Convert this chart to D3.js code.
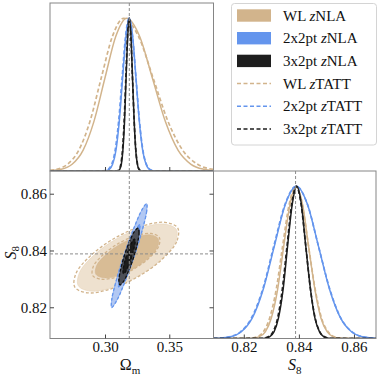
<!DOCTYPE html>
<html lang="en">
<head>
<meta charset="utf-8">
<title>Omega_m - S8 corner plot</title>
<script src="https://d3js.org/d3.v7.min.js"></script>
<style>
  body { margin: 0; background: #fff; }
  svg { display: block; }
  text { font-family: "Liberation Serif", "DejaVu Serif", serif; fill: #111; }
</style>
</head>
<body>
<svg id="chart" width="381" height="381"></svg>
<script>
// ---- data ----
var omTicks = [0.30, 0.35];
var s8Ticks = [0.82, 0.84, 0.86];
var truthOm = 0.3189, truthS8 = 0.8388;

var legendNames = ["WL", "2x2pt", "3x2pt"];
var legendModels = ["NLA", "TATT"];

// 1D marginals, Omega_m  [value, density / peak]
var omWLnla = [[0.2572,0.002],[0.2659,0.011],[0.2744,0.044],[0.2829,0.135],[0.2914,0.325],[0.2999,0.607],[0.3084,0.882],[0.3169,1],[0.3269,0.882],[0.3369,0.607],[0.3469,0.325],[0.3569,0.135],[0.3669,0.044],[0.3769,0.011],[0.3844,0.003]];
var omWLtatt = [[0.2572,0.005],[0.2620,0.011],[0.2708,0.044],[0.2795,0.135],[0.2883,0.325],[0.2970,0.607],[0.3058,0.882],[0.3145,1],[0.3260,0.882],[0.3375,0.607],[0.3490,0.325],[0.3605,0.135],[0.3720,0.044],[0.3844,0.010]];
var om2x2nla = [[0.2572,0],[0.2981,0.0003],[0.3007,0.002],[0.3033,0.011],[0.3059,0.044],[0.3085,0.135],[0.3111,0.325],[0.3137,0.607],[0.3163,0.882],[0.3189,1],[0.3215,0.882],[0.3241,0.607],[0.3267,0.325],[0.3293,0.135],[0.3319,0.044],[0.3345,0.011],[0.3371,0.002],[0.3397,0.0003],[0.3844,0]];
var om2x2tatt = [[0.2572,0],[0.2971,0.0003],[0.2998,0.002],[0.3025,0.011],[0.3052,0.044],[0.3079,0.135],[0.3106,0.325],[0.3133,0.607],[0.3160,0.882],[0.3187,1],[0.3214,0.882],[0.3241,0.607],[0.3268,0.325],[0.3295,0.135],[0.3322,0.044],[0.3349,0.011],[0.3376,0.002],[0.3403,0.0003],[0.3844,0]];
var om3x2nla = [[0.2572,0],[0.3089,0.0003],[0.3102,0.002],[0.3114,0.011],[0.3127,0.044],[0.3139,0.135],[0.3152,0.325],[0.3164,0.607],[0.3177,0.882],[0.3189,1],[0.3202,0.882],[0.3214,0.607],[0.3227,0.325],[0.3239,0.135],[0.3252,0.044],[0.3264,0.011],[0.3277,0.002],[0.3289,0.0003],[0.3844,0]];
var om3x2tatt = [[0.2572,0],[0.3084,0.0003],[0.3097,0.002],[0.3110,0.011],[0.3123,0.044],[0.3136,0.135],[0.3149,0.325],[0.3162,0.607],[0.3175,0.882],[0.3188,1],[0.3201,0.882],[0.3214,0.607],[0.3227,0.325],[0.3240,0.135],[0.3253,0.044],[0.3266,0.011],[0.3279,0.002],[0.3292,0.0003],[0.3844,0]];

// 1D marginals, S8
var s8WLnla = [[0.809,0],[0.8210,0.0003],[0.8233,0.002],[0.8255,0.011],[0.8278,0.044],[0.8300,0.135],[0.8323,0.325],[0.8345,0.607],[0.8368,0.882],[0.8390,1],[0.8413,0.882],[0.8435,0.607],[0.8458,0.325],[0.8480,0.135],[0.8503,0.044],[0.8525,0.011],[0.8548,0.002],[0.8570,0.0003],[0.868,0]];
var s8WLtatt = [[0.809,0],[0.8200,0.0003],[0.8224,0.002],[0.8247,0.011],[0.8271,0.044],[0.8294,0.135],[0.8318,0.325],[0.8341,0.607],[0.8365,0.882],[0.8388,1],[0.8412,0.882],[0.8435,0.607],[0.8459,0.325],[0.8482,0.135],[0.8506,0.044],[0.8529,0.011],[0.8553,0.002],[0.8576,0.0003],[0.868,0]];
var s82x2nla = [[0.809,0.0008],[0.8111,0.002],[0.8151,0.011],[0.8191,0.044],[0.8231,0.135],[0.8271,0.325],[0.8311,0.607],[0.8351,0.882],[0.8391,1],[0.8431,0.882],[0.8471,0.607],[0.8511,0.325],[0.8551,0.135],[0.8591,0.044],[0.8631,0.011],[0.8671,0.002],[0.868,0.0015]];
var s82x2tatt = [[0.809,0.001],[0.8107,0.002],[0.8147,0.011],[0.8188,0.044],[0.8228,0.135],[0.8269,0.325],[0.8309,0.607],[0.8350,0.882],[0.8390,1],[0.8431,0.882],[0.8471,0.607],[0.8512,0.325],[0.8552,0.135],[0.8593,0.044],[0.8633,0.011],[0.8674,0.002],[0.868,0.0015]];
var s83x2nla = [[0.809,0],[0.8260,0.0003],[0.8277,0.002],[0.8293,0.011],[0.8310,0.044],[0.8326,0.135],[0.8343,0.325],[0.8359,0.607],[0.8376,0.882],[0.8392,1],[0.8409,0.882],[0.8425,0.607],[0.8442,0.325],[0.8458,0.135],[0.8475,0.044],[0.8491,0.011],[0.8508,0.002],[0.8524,0.0003],[0.868,0]];
var s83x2tatt = [[0.809,0],[0.8255,0.0003],[0.8272,0.002],[0.8289,0.011],[0.8306,0.044],[0.8323,0.135],[0.8340,0.325],[0.8357,0.607],[0.8374,0.882],[0.8391,1],[0.8408,0.882],[0.8425,0.607],[0.8442,0.325],[0.8459,0.135],[0.8476,0.044],[0.8493,0.011],[0.8510,0.002],[0.8527,0.0003],[0.868,0]];

// 2D contours [Omega_m, S8], 95% and 68%
var wlNla95 = [[0.3555,0.8474],[0.3546,0.8428],[0.3437,0.8368],[0.3258,0.8310],[0.3056,0.8269],[0.2885,0.8257],[0.2792,0.8276],[0.2801,0.8322],[0.2910,0.8382],[0.3089,0.8441],[0.3292,0.8481],[0.3462,0.8493]];
var wlNla68 = [[0.3413,0.8442],[0.3408,0.8412],[0.3340,0.8374],[0.3226,0.8337],[0.3097,0.8311],[0.2988,0.8304],[0.2929,0.8316],[0.2934,0.8346],[0.3003,0.8384],[0.3117,0.8422],[0.3245,0.8447],[0.3354,0.8455]];
var wlTatt95 = [[0.3566,0.8479],[0.3557,0.8431],[0.3442,0.8368],[0.3254,0.8307],[0.3042,0.8264],[0.2863,0.8251],[0.2765,0.8271],[0.2774,0.8319],[0.2889,0.8382],[0.3077,0.8444],[0.3290,0.8486],[0.3468,0.8499]];
var wlTatt68 = [[0.3422,0.8446],[0.3417,0.8414],[0.3344,0.8374],[0.3222,0.8334],[0.3084,0.8306],[0.2967,0.8299],[0.2904,0.8312],[0.2909,0.8344],[0.2983,0.8384],[0.3105,0.8425],[0.3242,0.8452],[0.3359,0.8460]];
var p2Nla95 = [[0.3324,0.8565],[0.3324,0.8538],[0.3288,0.8469],[0.3225,0.8377],[0.3152,0.8286],[0.3088,0.8221],[0.3052,0.8199],[0.3052,0.8226],[0.3088,0.8295],[0.3151,0.8388],[0.3224,0.8478],[0.3287,0.8543]];
var p2Nla68 = [[0.3270,0.8492],[0.3269,0.8476],[0.3247,0.8435],[0.3209,0.8379],[0.3165,0.8324],[0.3127,0.8285],[0.3106,0.8272],[0.3107,0.8288],[0.3129,0.8330],[0.3167,0.8385],[0.3211,0.8440],[0.3249,0.8479]];
var p3Nla95 = [[0.3257,0.8479],[0.3265,0.8463],[0.3252,0.8425],[0.3221,0.8374],[0.3181,0.8325],[0.3143,0.8290],[0.3116,0.8279],[0.3108,0.8295],[0.3122,0.8334],[0.3152,0.8384],[0.3192,0.8433],[0.3230,0.8468]];
var p3Nla68 = [[0.3229,0.8440],[0.3234,0.8431],[0.3225,0.8407],[0.3206,0.8376],[0.3182,0.8346],[0.3159,0.8325],[0.3144,0.8318],[0.3140,0.8328],[0.3148,0.8351],[0.3167,0.8382],[0.3191,0.8412],[0.3214,0.8433]];
// zTATT contours for 2x2pt / 3x2pt sit on top of the zNLA ones
var p2Tatt95 = p2Nla95, p2Tatt68 = p2Nla68, p3Tatt95 = p3Nla95, p3Tatt68 = p3Nla68;

var colors = ["#d2b48c", "#6495ed", "#1e1e1e"];
var serif = "'Liberation Serif', 'DejaVu Serif', serif";

// ---- layout ----
var colX = [50, 213.5, 376], rowY = [3, 171, 338.5];
var svg = d3.select("#chart");

var xOm = d3.scaleLinear().domain([0.2572, 0.3844]).range([colX[0], colX[1]]);
var xS8 = d3.scaleLinear().domain([0.809, 0.868]).range([colX[1], colX[2]]);
var yS8 = d3.scaleLinear().domain([0.809, 0.868]).range([rowY[2], rowY[1]]);
var yTop = d3.scaleLinear().domain([0, 1.1]).range([rowY[1], rowY[0]]);
var yRight = d3.scaleLinear().domain([0, 1.1]).range([rowY[2], rowY[1]]);

var defs = svg.append("defs");
function clip(id, x0, y0, x1, y1) {
  defs.append("clipPath").attr("id", id).append("rect")
    .attr("x", x0).attr("y", y0).attr("width", x1 - x0).attr("height", y1 - y0);
  return svg.append("g").attr("clip-path", "url(#" + id + ")");
}
var gTL = clip("cTL", colX[0], rowY[0], colX[1], rowY[1]);
var gBL = clip("cBL", colX[0], rowY[1], colX[1], rowY[2]);
var gBR = clip("cBR", colX[1], rowY[1], colX[2], rowY[2]);

// ---- 2D contours ----
var contour = d3.line().x(function(d){ return xOm(d[0]); }).y(function(d){ return yS8(d[1]); })
  .curve(d3.curveCatmullRomClosed);

function filled(data, fill, stroke) {
  gBL.append("path").attr("d", contour(data)).attr("fill", fill)
    .attr("stroke", stroke).attr("stroke-width", 0.8).attr("stroke-opacity", 0.7);
}
function dashedC(data, stroke) {
  gBL.append("path").attr("d", contour(data)).attr("fill", "none")
    .attr("stroke", stroke).attr("stroke-width", 1.3).attr("stroke-dasharray", "3,2");
}
filled(wlNla95, "#eee1cf", "#e6d3b8");
filled(wlNla68, "#d8bc95", "#d2b48c");
dashedC(wlTatt95, colors[0]);
dashedC(wlTatt68, colors[0]);
filled(p2Nla95, "#b2c8f3", colors[1]);
filled(p2Nla68, "#7aa5ef", colors[1]);
dashedC(p2Tatt95, colors[1]);
dashedC(p2Tatt68, colors[1]);
filled(p3Nla95, "#4d5058", colors[2]);
filled(p3Nla68, "#1c1c1c", colors[2]);
dashedC(p3Tatt95, "#111");
dashedC(p3Tatt68, "#111");

// ---- 1D marginals ----
function marg(g, data, x, y, color, dashed) {
  var line = d3.line().x(function(d){ return x(d[0]); }).y(function(d){ return y(d[1]); })
    .curve(d3.curveMonotoneX);
  g.append("path").datum(data).attr("d", line).attr("fill", "none")
    .attr("stroke", color).attr("stroke-width", dashed ? 1.7 : 1.5)
    .attr("stroke-dasharray", dashed ? "4,2.5" : null);
}
marg(gTL, omWLnla, xOm, yTop, colors[0], false);
marg(gTL, omWLtatt, xOm, yTop, colors[0], true);
marg(gTL, om2x2nla, xOm, yTop, colors[1], false);
marg(gTL, om2x2tatt, xOm, yTop, colors[1], true);
marg(gTL, om3x2nla, xOm, yTop, colors[2], false);
marg(gTL, om3x2tatt, xOm, yTop, colors[2], true);

marg(gBR, s8WLnla, xS8, yRight, colors[0], false);
marg(gBR, s8WLtatt, xS8, yRight, colors[0], true);
marg(gBR, s82x2nla, xS8, yRight, colors[1], false);
marg(gBR, s82x2tatt, xS8, yRight, colors[1], true);
marg(gBR, s83x2nla, xS8, yRight, colors[2], false);
marg(gBR, s83x2tatt, xS8, yRight, colors[2], true);

// ---- truth lines ----
function refLine(g, x1, y1, x2, y2) {
  g.append("line").attr("x1", x1).attr("y1", y1).attr("x2", x2).attr("y2", y2)
    .attr("stroke", "#8c8c8c").attr("stroke-width", 1).attr("stroke-dasharray", "3,2");
}
refLine(gTL, xOm(truthOm), rowY[0], xOm(truthOm), rowY[1]);
refLine(gBL, xOm(truthOm), rowY[1], xOm(truthOm), rowY[2]);
refLine(gBL, colX[0], yS8(truthS8), colX[1], yS8(truthS8));
refLine(gBR, xS8(truthS8), rowY[1], xS8(truthS8), rowY[2]);

// ---- frames ----
[[colX[0], rowY[0], colX[1], rowY[1]], [colX[0], rowY[1], colX[1], rowY[2]], [colX[1], rowY[1], colX[2], rowY[2]]]
  .forEach(function(b) {
    svg.append("rect").attr("x", b[0]).attr("y", b[1]).attr("width", b[2] - b[0]).attr("height", b[3] - b[1])
      .attr("fill", "none").attr("stroke", "#858585").attr("stroke-width", 1);
  });

// ---- axes ----
function styleAxis(g) {
  g.attr("font-family", serif).attr("font-size", 15);
  g.select(".domain").remove();
  g.selectAll(".tick line").attr("stroke", "#444");
  g.selectAll(".tick text").style("font-family", serif).style("font-size", "15px").attr("fill", "#111");
}
svg.append("g").attr("transform", "translate(0," + rowY[1] + ")")
  .call(d3.axisBottom(xOm).tickValues(omTicks).tickSizeInner(-4).tickSizeOuter(0).tickFormat(""))
  .call(styleAxis);
svg.append("g").attr("transform", "translate(0," + rowY[2] + ")")
  .call(d3.axisBottom(xOm).tickValues(omTicks).tickSizeInner(-4).tickSizeOuter(0).tickPadding(2.5).tickFormat(d3.format(".2f")))
  .call(styleAxis);
svg.append("g").attr("transform", "translate(" + colX[0] + ",0)")
  .call(d3.axisLeft(yS8).tickValues(s8Ticks).tickSizeInner(-4).tickSizeOuter(0).tickPadding(3).tickFormat(d3.format(".2f")))
  .call(styleAxis);
svg.append("g").attr("transform", "translate(" + colX[1] + ",0)")
  .call(d3.axisRight(yS8).tickValues(s8Ticks).tickSizeInner(-4).tickSizeOuter(0).tickFormat(""))
  .call(styleAxis);
svg.append("g").attr("transform", "translate(0," + rowY[2] + ")")
  .call(d3.axisBottom(xS8).tickValues(s8Ticks).tickSizeInner(-4).tickSizeOuter(0).tickPadding(2.5).tickFormat(d3.format(".2f")))
  .call(styleAxis);

// axis labels
var lx = svg.append("text").attr("x", xOm(0.3195)).attr("y", 370).attr("text-anchor", "middle").attr("font-size", 16);
lx.append("tspan").text("Ω");
lx.append("tspan").attr("dy", 4).attr("font-size", 11).text("m");
var ls = svg.append("text").attr("x", xS8(0.8385)).attr("y", 370).attr("text-anchor", "middle").attr("font-size", 16);
ls.append("tspan").attr("font-style", "italic").text("S");
ls.append("tspan").attr("dy", 4).attr("font-size", 11).text("8");
var ly = svg.append("text").attr("transform", "translate(16," + yS8(0.8392) + ") rotate(-90)")
  .attr("text-anchor", "middle").attr("font-size", 16);
ly.append("tspan").attr("font-style", "italic").text("S");
ly.append("tspan").attr("dy", 2.5).attr("font-size", 11).text("8");

// ---- legend ----
var leg = svg.append("g");
leg.append("rect").attr("x", 231.5).attr("y", 3.5).attr("width", 145).attr("height", 141.5).attr("rx", 3)
  .attr("fill", "#fff").attr("stroke", "#d4d4d4").attr("stroke-width", 1);
var rows = [];
legendModels.forEach(function(m, mi) {
  legendNames.forEach(function(n, ni) { rows.push({ name: n, model: m, color: colors[ni], dashed: mi === 1 }); });
});
rows.forEach(function(r, i) {
  var cy = 15.5 + i * 22.7;
  if (r.dashed) {
    leg.append("line").attr("x1", 237).attr("x2", 271).attr("y1", cy).attr("y2", cy)
      .attr("stroke", r.color).attr("stroke-width", 1.5).attr("stroke-dasharray", "4,2.5");
  } else {
    leg.append("rect").attr("x", 237).attr("y", cy - 6.2).attr("width", 34).attr("height", 12.4).attr("fill", r.color);
  }
  var t = leg.append("text").attr("x", 283).attr("y", cy).attr("dy", "0.34em").attr("font-size", 15);
  t.append("tspan").text(r.name + " ");
  t.append("tspan").attr("font-style", "italic").text("z");
  t.append("tspan").text(r.model);
});
</script>
</body>
</html>
